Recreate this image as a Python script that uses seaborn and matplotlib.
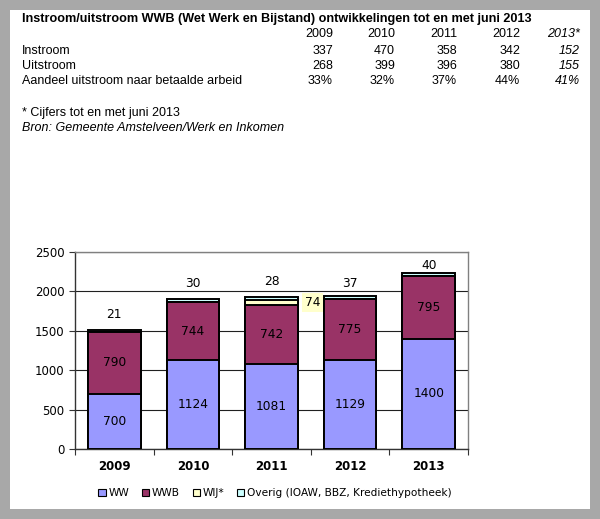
import matplotlib
matplotlib.use("Agg")
import matplotlib.pyplot as plt
import matplotlib.patches as mpatches
import seaborn as sns
import pandas as pd
import numpy as np

# Data
years = ["2009", "2010", "2011", "2012", "2013"]
ww = [700, 1124, 1081, 1129, 1400]
wwb = [790, 744, 742, 775, 795]
wij = [0, 0, 74, 0, 0]
overig = [21, 30, 28, 37, 40]

# Table above the chart
table_years = ["2009", "2010", "2011", "2012", "2013*"]
instroom = ["337", "470", "358", "342", "152"]
uitstroom = ["268", "399", "396", "380", "155"]
aandeel = ["33%", "32%", "37%", "44%", "41%"]

sns.set_style("white")
plt.rcParams["font.family"] = ["DejaVu Sans"]
plt.rcParams["text.color"] = "black"
plt.rcParams["xtick.color"] = "black"
plt.rcParams["ytick.color"] = "black"

fig = plt.figure(figsize=(6.0, 5.19), dpi=100)
fig.patch.set_facecolor("#a8a8a8")
# white sheet inside the gray frame
fig.add_artist(mpatches.Rectangle((10 / 600, 10 / 519), 580 / 600, 499 / 519,
                                  transform=fig.transFigure, facecolor="white",
                                  edgecolor="none", zorder=0))

tf = "Liberation Sans"
W, H = 600.0, 519.0


def ftext(x, y, s, **kw):
    fig.text(x / W, 1 - y / H, s, va="center", family=tf, **kw)


ftext(22, 19, "Instroom/uitstroom WWB (Wet Werk en Bijstand) ontwikkelingen tot en met juni 2013",
      fontsize=9.1, weight="bold")
col_x = [333, 395, 457, 520, 580]
rows = [(34, "", table_years), (51, "Instroom", instroom),
        (66, "Uitstroom", uitstroom), (81, "Aandeel uitstroom naar betaalde arbeid", aandeel)]
for y, label, vals in rows:
    if label:
        ftext(22, y, label, fontsize=9.0)
    for i, (x, v) in enumerate(zip(col_x, vals)):
        ftext(x, y, v, fontsize=9.0, ha="right", style="italic" if i == 4 else "normal")
ftext(22, 113, "* Cijfers tot en met juni 2013", fontsize=9.0)
ftext(22, 128, "Bron: Gemeente Amstelveen/Werk en Inkomen", fontsize=9.0, style="italic")

# Chart
ax = fig.add_axes([75 / W, 1 - 449 / H, (468 - 75) / W, (449 - 252) / H])
ax.set_facecolor("white")

df = pd.DataFrame({"year": years, "WW": ww, "WWB": wwb, "WIJ*": wij, "Overig": overig})
layers = ["WW", "WWB", "WIJ*", "Overig"]
colors = {"WW": "#9999ff", "WWB": "#993366", "WIJ*": "#ffffcc", "Overig": "#ccffff"}
cum = df[layers].cumsum(axis=1)

for layer in reversed(layers):
    sns.barplot(x=df["year"], y=cum[layer], color=colors[layer], width=0.67,
                edgecolor="black", linewidth=1.4, saturation=1, ax=ax, zorder=3)

# value labels (offset of the top labels above the bar, in data units)
top_offset = [190, 205, 195, 165, 90]
for i in range(len(years)):
    ax.text(i, ww[i] / 2, str(ww[i]), ha="center", va="center", fontsize=8.8)
    ax.text(i, ww[i] + wwb[i] / 2, str(wwb[i]), ha="center", va="center", fontsize=8.8)
    top = ww[i] + wwb[i] + wij[i] + overig[i]
    ax.text(i, top + top_offset[i], str(overig[i]), ha="center", va="center", fontsize=8.8)
    if wij[i]:
        ax.text(i + 0.52, ww[i] + wwb[i] + wij[i] / 2, str(wij[i]), ha="center", va="center",
                fontsize=8.8, bbox=dict(boxstyle="square,pad=0.25", facecolor="#ffffcc",
                                        edgecolor="none"))

ax.set_ylim(0, 2500)
ax.set_xlim(-0.5, 4.5)
ax.set_yticks(range(0, 2501, 500))
ax.yaxis.grid(True, color="#202020", linewidth=0.8)
ax.set_axisbelow(True)
ax.set_xlabel("")
ax.set_ylabel("")
ax.set_xticks(np.arange(-0.5, 5, 1))
ax.set_xticklabels([])
ax.set_xticks(range(5), minor=True)
ax.set_xticklabels(years, minor=True, fontsize=8.5, weight="bold")
ax.tick_params(axis="x", which="major", direction="out", length=4, color="#333333",
               bottom=True)
ax.tick_params(axis="x", which="minor", length=0, pad=8)
ax.tick_params(axis="y", direction="out", length=4, left=True, labelsize=8.5, color="#333333")
for side in ["left", "bottom"]:
    ax.spines[side].set_color("#333333")
    ax.spines[side].set_linewidth(1.0)
for side in ["top", "right"]:
    ax.spines[side].set_color("#808080")
    ax.spines[side].set_linewidth(1.0)

handles = [mpatches.Patch(facecolor=colors[l], edgecolor="black", linewidth=0.8, label=l)
           for l in layers[:3]]
handles.append(mpatches.Patch(facecolor=colors["Overig"], edgecolor="black", linewidth=0.8,
                              label="Overig (IOAW, BBZ, Krediethypotheek)"))
fig.legend(handles=handles, loc="center", bbox_to_anchor=(275 / W, 1 - 493 / H), ncol=4,
           frameon=False, fontsize=7.6, handlelength=0.7, handleheight=0.7,
           handletextpad=0.25, columnspacing=1.2)

fig.savefig("out.png", dpi=100, facecolor=fig.get_facecolor())
